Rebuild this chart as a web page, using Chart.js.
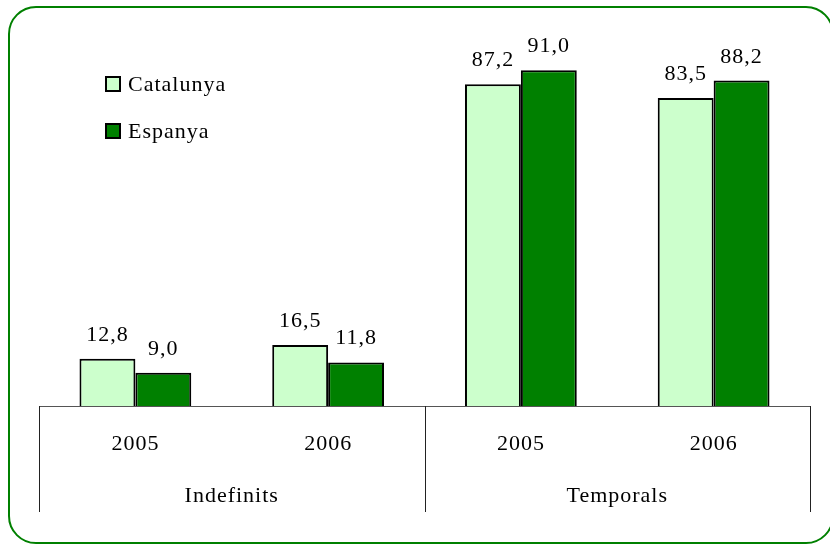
<!DOCTYPE html>
<html lang="en">
<head>
  <meta charset="UTF-8" />
  <title>Indefinits i temporals</title>
  <script src="https://cdn.jsdelivr.net/npm/chart.js"></script>
  <style>
    html, body { margin: 0; padding: 0; background: #fff; overflow: hidden; }
    .wrap { position: relative; width: 830px; height: 545px; overflow: hidden; }
    .frame {
      position: absolute; left: 8px; top: 6px; width: 826px; height: 538px;
      border: 2px solid #008000; border-radius: 28px; box-sizing: border-box;
    }
    canvas { position: absolute; left: 0; top: 0; }
  </style>
</head>
<body>
  <div class="wrap">
    <div class="frame"></div>
    <canvas id="chart" width="830" height="545"></canvas>
  </div>

  <script>
    // data
    const years = ['2005', '2006', '2005', '2006'];
    const groups = ['Indefinits', 'Temporals'];
    const catalunya = [12.8, 16.5, 87.2, 83.5];
    const espanya = [9.0, 11.8, 91.0, 88.2];

    const FONT = '22px "Liberation Serif", "Times New Roman", serif';

    function setText(ctx) {
      ctx.font = FONT;
      ctx.fillStyle = '#000';
      ctx.letterSpacing = '1px';
    }

    // value labels above bars + two-level category axis
    const extras = {
      id: 'extras',
      afterDatasetsDraw(chart) {
        const ctx = chart.ctx;
        ctx.save();
        setText(ctx);
        ctx.textAlign = 'center';
        ctx.textBaseline = 'alphabetic';
        chart.data.datasets.forEach((ds, i) => {
          chart.getDatasetMeta(i).data.forEach((bar, j) => {
            ctx.fillText(ds.data[j].toFixed(1).replace('.', ','), bar.x, bar.y - 18);
          });
        });
        ctx.restore();
      },
      afterDraw(chart) {
        const ctx = chart.ctx;
        const x = chart.scales.x;
        const top = chart.chartArea.bottom;
        const bottom = top + 106;
        const step = (x.right - x.left) / years.length;
        ctx.save();
        ctx.strokeStyle = '#222';
        ctx.lineWidth = 1;
        const edges = [x.left, x.left + step * 2, x.right];
        edges.forEach(px => {
          const p = Math.round(px) + 0.5;
          ctx.beginPath();
          ctx.moveTo(p, top);
          ctx.lineTo(p, bottom);
          ctx.stroke();
        });
        setText(ctx);
        ctx.textAlign = 'center';
        ctx.textBaseline = 'alphabetic';
        years.forEach((y, i) => {
          ctx.fillText(y, x.getPixelForTick(i), top + 44);
        });
        groups.forEach((g, i) => {
          ctx.fillText(g, (edges[i] + edges[i + 1]) / 2, top + 96);
        });

        // legend
        chart.data.datasets.forEach((ds, i) => {
          const y = 77 + i * 47;
          ctx.fillStyle = ds.backgroundColor;
          ctx.fillRect(106, y, 14, 14);
          ctx.strokeStyle = '#000';
          ctx.lineWidth = 2;
          ctx.strokeRect(106, y, 14, 14);
          setText(ctx);
          ctx.textAlign = 'left';
          ctx.fillText(ds.label, 128, y + 14);
        });
        ctx.restore();
      }
    };

    new Chart(document.getElementById('chart'), {
      type: 'bar',
      data: {
        labels: years,
        datasets: [
          {
            label: 'Catalunya',
            data: catalunya,
            backgroundColor: '#CCFFCC',
            borderColor: '#000',
            borderWidth: 2,
            borderSkipped: 'bottom'
          },
          {
            label: 'Espanya',
            data: espanya,
            backgroundColor: '#008000',
            borderColor: '#000',
            borderWidth: 2,
            borderSkipped: 'bottom'
          }
        ]
      },
      options: {
        responsive: false,
        animation: false,
        layout: { padding: { left: 39, right: 20, top: 37, bottom: 33 } },
        datasets: { bar: { categoryPercentage: 0.58, barPercentage: 1 } },
        plugins: {
          legend: { display: false },
          tooltip: { enabled: false }
        },
        scales: {
          y: { display: false, min: 0, max: 100 },
          x: {
            grid: { display: false },
            border: { display: true, color: '#555', width: 1 },
            ticks: { display: false },
            afterFit(scale) { scale.height = 106; }
          }
        }
      },
      plugins: [extras]
    });
  </script>
</body>
</html>
